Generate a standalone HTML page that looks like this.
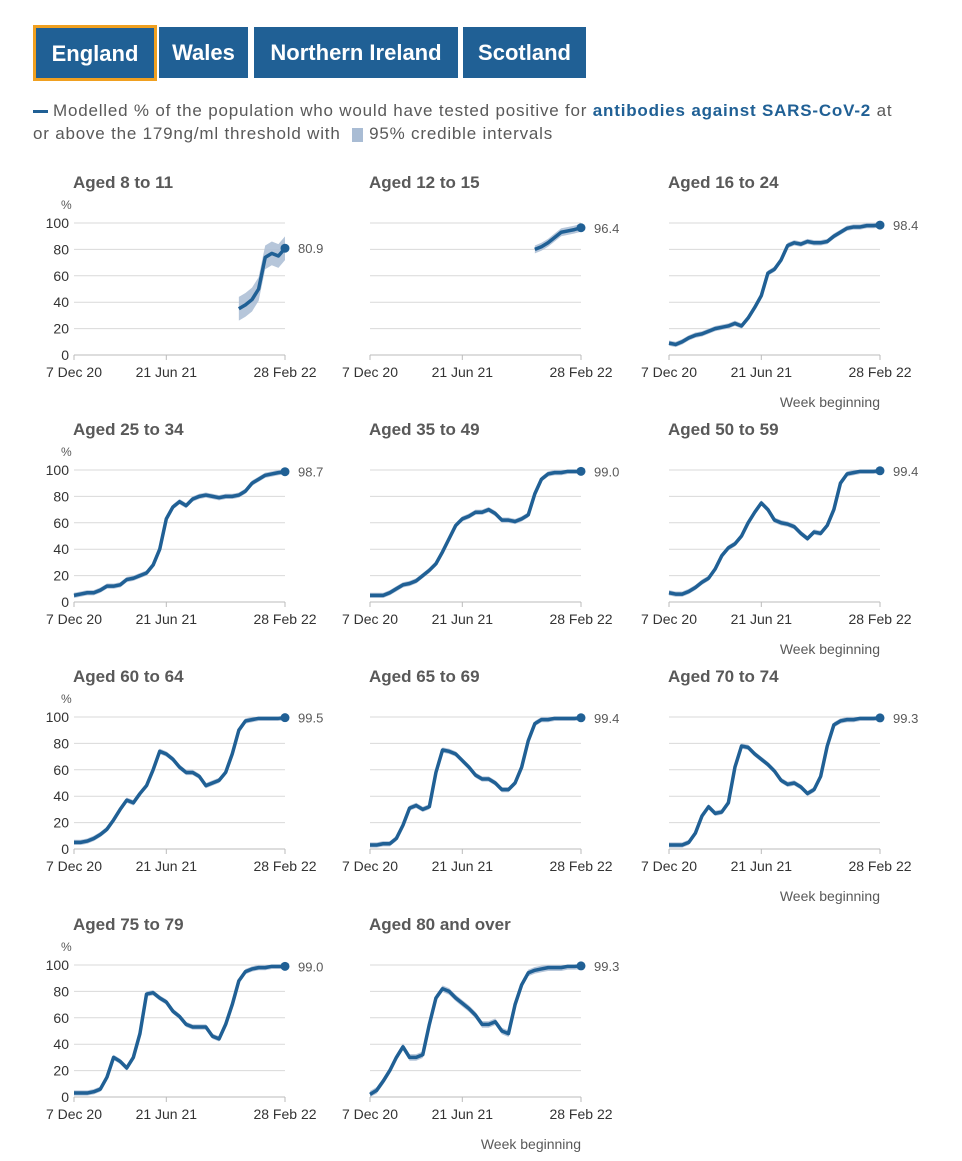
<!DOCTYPE html>
<html><head><meta charset="utf-8">
<style>
body{margin:0;background:#fff;width:962px;height:1161px;overflow:hidden;font-family:"Liberation Sans",Arial,sans-serif;}
.btn{position:absolute;top:27px;height:51px;background:#206095;color:#fff;font-weight:bold;font-size:22px;line-height:51px;text-align:center;box-sizing:border-box;}
.legend{position:absolute;left:33px;top:99px;font-size:17px;color:#595959;line-height:23px;width:920px;white-space:nowrap;letter-spacing:0.8px;}
svg{position:absolute;left:0;top:0;}
</style></head><body>
<div class="btn" style="left:33px;top:25px;width:124px;height:56px;line-height:52px;border:3px solid #f0a020;">England</div>
<div class="btn" style="left:159px;width:89px;">Wales</div>
<div class="btn" style="left:254px;width:204px;">Northern Ireland</div>
<div class="btn" style="left:463px;width:123px;">Scotland</div>
<div class="legend"><span style="display:inline-block;width:15px;height:3px;background:#206095;vertical-align:middle;margin-right:5px"></span>Modelled % of the population who would have tested positive for <b style="color:#206095">antibodies against SARS-CoV-2</b> at<br>or above the 179ng/ml threshold with <span style="display:inline-block;width:11px;height:14px;background:#a9bcd4;vertical-align:middle;margin:0 6px"></span>95% credible intervals</div>
<svg id="chart" width="962" height="1161"></svg>
<script>
const weeks=[0,2,4,6,8,10,12,14,16,18,20,22,24,26,28,30,32,34,36,38,40,42,44,46,48,50,52,54,56,58,60,62,64];
const xTickWeeks=[0,28,64];
const xTickLabels=["7 Dec 20","21 Jun 21","28 Feb 22"];
const yTicks=[0,20,40,60,80,100];
const titles=["Aged 8 to 11","Aged 12 to 15","Aged 16 to 24","Aged 25 to 34","Aged 35 to 49","Aged 50 to 59","Aged 60 to 64","Aged 65 to 69","Aged 70 to 74","Aged 75 to 79","Aged 80 and over"];
const lastLabels=["80.9","96.4","98.4","98.7","99.0","99.4","99.5","99.4","99.3","99.0","99.3"];
const ciHalf=[9,3,2,2,2,2,2,2,2,2,2.5];
const n=null;
const v8to11=[n,n,n,n,n,n,n,n,n,n,n,n,n,n,n,n,n,n,n,n,n,n,n,n,n,35,38,42,50,74,77,75,80.9];
const v12to15=[n,n,n,n,n,n,n,n,n,n,n,n,n,n,n,n,n,n,n,n,n,n,n,n,n,80,82,85,89,93,94,95,96.4];
const v16to24=[9,8,10,13,15,16,18,20,21,22,24,22,28,36,45,62,65,72,83,85,84,86,85,85,86,90,93,96,97,97,98,98,98.4];
const v25to34=[5,6,7,7,9,12,12,13,17,18,20,22,28,40,63,72,76,73,78,80,81,80,79,80,80,81,84,90,93,96,97,98,98.7];
const v35to49=[5,5,5,7,10,13,14,16,20,24,29,38,48,58,63,65,68,68,70,67,62,62,61,63,66,82,93,97,98,98,99,99,99];
const v50to59=[7,6,6,8,11,15,18,25,35,41,44,50,60,68,75,70,62,60,59,57,52,48,53,52,58,70,90,97,98,99,99,99,99.4];
const v60to64=[5,5,6,8,11,15,22,30,37,35,42,48,60,74,72,68,62,58,58,55,48,50,52,58,72,90,97,98,99,99,99,99,99.5];
const v65to69=[3,3,4,4,8,18,31,33,30,32,58,75,74,72,67,62,56,53,53,50,45,45,50,62,82,95,98,98,99,99,99,99,99.4];
const v70to74=[3,3,3,5,12,25,32,27,28,35,62,78,77,72,68,64,59,52,49,50,47,42,45,55,78,94,97,98,98,99,99,99,99.3];
const v75to79=[3,3,3,4,6,15,30,27,22,30,48,78,79,75,72,65,61,55,53,53,53,46,44,55,70,88,95,97,98,98,99,99,99];
const v80plus=[2,5,12,20,30,38,30,30,32,55,75,82,80,75,71,67,62,55,55,57,50,48,70,85,94,96,97,98,98,98,99,99,99.3];
const series=[v8to11,v12to15,v16to24,v25to34,v35to49,v50to59,v60to64,v65to69,v70to74,v75to79,v80plus];
const slug=["8-to-11","12-to-15","16-to-24","25-to-34","35-to-49","50-to-59","60-to-64","65-to-69","70-to-74","75-to-79","80-plus"];

const svg=document.getElementById('chart');
const NS="http://www.w3.org/2000/svg";
const colX=[74,370,669], rowY=[223,470,717,965], W=211, H=132;
function mk(tag,attrs,parent){const e=document.createElementNS(NS,tag);for(const k in attrs)e.setAttribute(k,attrs[k]);(parent||svg).appendChild(e);return e;}
series.forEach((vals,i)=>{
  const c=i%3,r=Math.floor(i/3),x0=colX[c],y0=rowY[r];
  const xs=w=>x0+w/64*W, ys=v=>y0+H-v/100*H;
  const g=mk('g',{});
  
  
  const t=mk('text',{x:x0-1,y:y0-35,'font-size':17,'font-weight':'bold',fill:'#595959'},g);t.textContent=titles[i];
  
  
  yTicks.forEach(v=>{
    if(v>0){const gl=mk('line',{x1:x0,x2:x0+W,y1:ys(v),y2:ys(v),stroke:'#d9d9d9','stroke-width':1},g);
      
      }
    if(c===0){const l=mk('text',{x:x0-5,y:ys(v)+5,'font-size':14,fill:'#333','text-anchor':'end'},g);l.textContent=v;
      
      }
  });
  if(c===0){const p=mk('text',{x:x0-13,y:y0-14,'font-size':12,fill:'#595959'},g);p.textContent='%';
    
    }
  const ax=mk('line',{x1:x0,x2:x0+W,y1:y0+H,y2:y0+H,stroke:'#bbb'},g);
  
  
  xTickWeeks.forEach((w,k)=>{
    mk('line',{x1:xs(w),x2:xs(w),y1:y0+H,y2:y0+H+5,stroke:'#bbb'},g);
    const l=mk('text',{x:xs(w),y:y0+H+22,'font-size':14,fill:'#333','text-anchor':'middle'},g);l.textContent=xTickLabels[k];
    
    
  });
  const pts=[];weeks.forEach((w,k)=>{if(vals[k]!==null)pts.push([w,vals[k]]);});
  const h=ciHalf[i];
  const up=pts.map(p=>xs(p[0])+','+ys(Math.min(100,p[1]+h))).join(' ');
  const lo=pts.slice().reverse().map(p=>xs(p[0])+','+ys(Math.max(0,p[1]-h))).join(' ');
  const band=mk('polygon',{points:up+' '+lo,fill:'#a9bcd4',opacity:0.85},g);
  
  
  const line=mk('polyline',{points:pts.map(p=>xs(p[0])+','+ys(p[1])).join(' '),fill:'none',stroke:'#206095','stroke-width':3.5,'stroke-linejoin':'round'},g);
  
  
  const last=pts[pts.length-1];
  const dot=mk('circle',{cx:xs(last[0]),cy:ys(last[1]),r:4.5,fill:'#206095'},g);
  
  
  const vl=mk('text',{x:xs(last[0])+13,y:ys(last[1])+5,'font-size':13,fill:'#595959'},g);vl.textContent=lastLabels[i];
  
  
  if(c===2||i===10){const wb=mk('text',{x:x0+W,y:y0+H+52,'font-size':14,fill:'#595959','text-anchor':'end'},g);wb.textContent='Week beginning';
    
    }
});
</script>
</body></html>
